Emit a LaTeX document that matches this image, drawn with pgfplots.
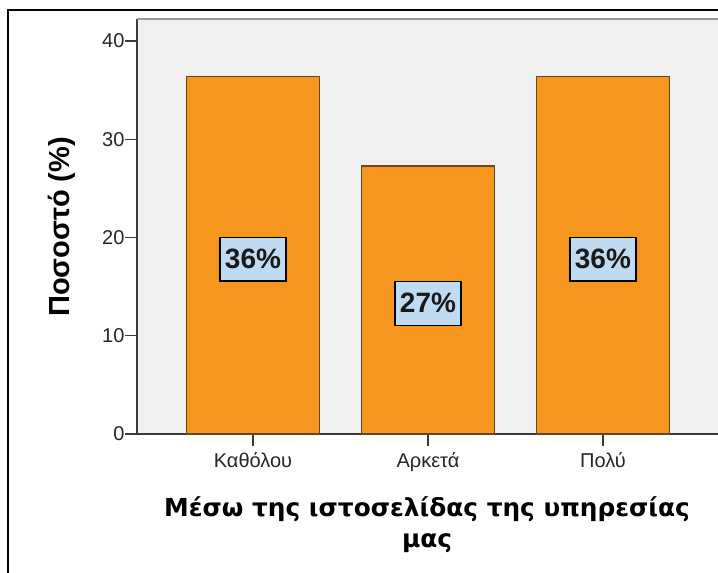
\documentclass[border=0pt]{standalone}
\usepackage{fontspec}
\setmainfont{Liberation Sans}
\newfontfamily\titlefont{DejaVu Sans}
\usepackage{pgfplots}
\pgfplotsset{compat=1.18}
\definecolor{bgray}{HTML}{F0F0F0}
\definecolor{barorange}{HTML}{F7961E}
\definecolor{baredge}{HTML}{6A4520}
\definecolor{lblue}{HTML}{BFDBF2}
\definecolor{axgray}{HTML}{3A3A3A}
\begin{document}
\begin{tikzpicture}[x=1pt,y=1pt]
\useasboundingbox (0,0) rectangle (718,573);
\clip (0,0) rectangle (718,573);
\fill[white] (0,0) rectangle (718,573);
\draw[black, line width=2.2pt] (8,-20) -- (8,563) -- (740,563);
\begin{axis}[
  at={(137pt,139pt)}, anchor=south west,
  scale only axis, width=583pt, height=415pt,
  xmin=-0.663, xmax=2.669, ymin=0, ymax=42.24,
  axis background/.style={fill=bgray},
  axis x line*=bottom, axis y line*=left,
  axis line style={axgray, line width=1.2pt},
  xtick={0,1,2}, xticklabels={Καθόλου,Αρκετά,Πολύ},
  ytick={0,10,20,30,40},
  tick align=outside, major tick length=12pt,
  tick style={axgray, line width=1.2pt},
  ticklabel style={font=\fontsize{20}{23}\selectfont, text=black!85},
  /pgf/number format/assume math mode=true,
  xticklabel style={yshift=-3pt},
  yticklabel style={xshift=3pt},
  clip=false,
]
\draw[gray!80, line width=1.5pt] (axis cs:-0.663,42.24) -- (axis cs:2.669,42.24);
\addplot[ybar, bar width=133pt, fill=barorange, draw=baredge, line width=1.3pt]
  coordinates {(0,36.36) (1,27.27) (2,36.36)};
\addplot[draw=none, mark=none, point meta=explicit symbolic,
  nodes near coords={\pgfplotspointmeta\%},
  nodes near coords style={anchor=center, fill=lblue, draw=black, line width=1.3pt,
    font=\bfseries\fontsize{28}{30}\selectfont, text=black!90, inner xsep=5pt, inner ysep=12pt}]
  coordinates {(0,17.8)[36] (1,13.3)[27] (2,17.8)[36]};
\end{axis}
\node[rotate=90, font=\bfseries\fontsize{29}{32}\selectfont] at (62,346) {Ποσοστό (\%)};
\node[align=center, font=\titlefont\bfseries\fontsize{24.8}{31}\selectfont] at (427,48) {Μέσω της ιστοσελίδας της υπηρεσίας\\μας};
\end{tikzpicture}
\end{document}
